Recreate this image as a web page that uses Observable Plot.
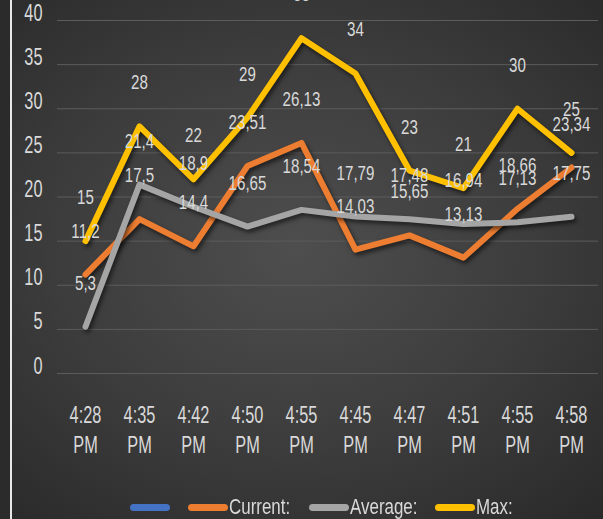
<!DOCTYPE html>
<html>
<head>
<meta charset="utf-8">
<script src="https://cdn.jsdelivr.net/npm/d3@7"></script>
<script src="https://cdn.jsdelivr.net/npm/@observablehq/plot@0.6"></script>
<style>
  html, body { margin: 0; padding: 0; background: #2b2b2b; }
  #wrap {
    position: relative; width: 603px; height: 519px; overflow: hidden;
    background: #2b2b2b;
  }
  #panel {
    position: absolute; left: 12px; top: 0; width: 591px; height: 519px;
    background: radial-gradient(ellipse 75% 70% at 48% 48%, #4e4e4e 0%, #3c3c3c 55%, #2a2a2a 100%);
  }
  #edge { position: absolute; left: 10px; top: 0; width: 2px; height: 519px; background: #e8e8e8; }
  #chart { position: absolute; left: 0; top: 0; }
  #chart svg { background: transparent !important; overflow: visible; }
  #chart svg g[aria-label="line"] path { filter: drop-shadow(2px 3px 2px rgba(0,0,0,0.55)); }
  #legend {
    position: absolute; left: 130px; top: 495px; height: 24px; display: flex; align-items: center;
    font-family: "Liberation Sans", Arial, sans-serif; font-size: 22px; line-height: 24px; color: #d9d9d9;
  }
  #legend .item { display: flex; align-items: center; margin-right: 18px; }
  #legend .sw { width: 40px; height: 7px; border-radius: 4px; display: inline-block; }
  #legend .lab { display: inline-block; transform: scaleX(0.77); transform-origin: left center; margin-left: 1px; white-space: nowrap; }
</style>
</head>
<body>
<div id="wrap">
  <div id="panel"></div>
  <div id="edge"></div>
  <div id="chart"></div>
  <div id="legend"></div>
</div>
<script>
const times = ["4:28 PM", "4:35 PM", "4:42 PM", "4:50 PM", "4:55 PM", "4:45 PM", "4:47 PM", "4:51 PM", "4:55 PM", "4:58 PM"];
const current = [11.2, 17.5, 14.4, 23.51, 26.13, 14.03, 15.65, 13.13, 18.66, 23.34];
const average = [5.3, 21.4, 18.9, 16.65, 18.54, 17.79, 17.48, 16.94, 17.13, 17.75];
const maxv = [15, 28, 22, 29, 38, 34, 23, 21, 30, 25];
const yTicks = [0, 5, 10, 15, 20, 25, 30, 35, 40];
const seriesNames = ["", "Current:", "Average:", "Max:"];
const seriesColors = ["#4472c4", "#ed7d31", "#a5a5a5", "#ffc000"];

const seriesData = [
  {name: "Current:", values: current, color: "#ed7d31"},
  {name: "Average:", values: average, color: "#a5a5a5"},
  {name: "Max:", values: maxv, color: "#ffc000"}
];

const fmt = v => String(v).replace(".", ",");
const FONT = "Liberation Sans";

const marks = [
  Plot.gridY(yTicks, {stroke: "#5c5c5c", strokeOpacity: 1, strokeWidth: 1}),
  Plot.axisY(yTicks, {tickSize: 0, tickPadding: 15, fontSize: 24, fill: "#d9d9d9", fontFamily: FONT, label: null, className: "tk"}),
  Plot.axisX({tickSize: 0, tickPadding: 28, fontSize: 24, fill: "#d9d9d9", fontFamily: FONT,
    lineHeight: 1.25, label: null, tickFormat: i => times[i].replace(" ", "\n"), className: "tk"})
];
for (const s of seriesData) {
  marks.push(Plot.line(s.values, {x: (d, i) => i, y: d => d, stroke: s.color, strokeWidth: 6, strokeLinejoin: "round", strokeLinecap: "round"}));
}
for (const s of seriesData) {
  marks.push(Plot.text(s.values, {x: (d, i) => i, y: d => d, text: d => fmt(d), dy: -37, fontSize: 21, fontFamily: FONT, fill: "#d9d9d9", className: "dl"}));
}

const plot = Plot.plot({
  width: 603,
  height: 470,
  marginLeft: 57,
  marginRight: 5,
  marginTop: 20,
  marginBottom: 97,
  style: {background: "transparent", color: "#d9d9d9"},
  x: {type: "point", domain: d3.range(times.length), padding: 0.5},
  y: {domain: [0, 40]},
  marks
});

// narrow the glyphs horizontally around each text's anchor point
plot.querySelectorAll("text").forEach(t => {
  const sx = t.closest(".dl") ? 0.72 : 0.68;
  const tr = t.getAttribute("transform") || "";
  const x = t.getAttribute("x"), y = t.getAttribute("y");
  let extra = "";
  if (x != null || y != null) {
    extra = ` translate(${+x || 0},${+y || 0})`;
    t.removeAttribute("x"); t.removeAttribute("y");
  }
  t.setAttribute("transform", `${tr}${extra} scale(${sx},1)`);
});

document.getElementById("chart").appendChild(plot);

const legend = document.getElementById("legend");
seriesNames.forEach((n, k) => {
  const item = document.createElement("div");
  item.className = "item";
  const sw = document.createElement("span");
  sw.className = "sw";
  sw.style.background = seriesColors[k];
  item.appendChild(sw);
  if (n) {
    const lab = document.createElement("span");
    lab.className = "lab";
    lab.textContent = n;
    item.appendChild(lab);
  }
  legend.appendChild(item);
});
legend.querySelectorAll(".lab").forEach(lab => {
  const full = lab.offsetWidth;
  const shown = lab.getBoundingClientRect().width;
  lab.style.marginRight = `${-(full - shown)}px`;
});
</script>
</body>
</html>
